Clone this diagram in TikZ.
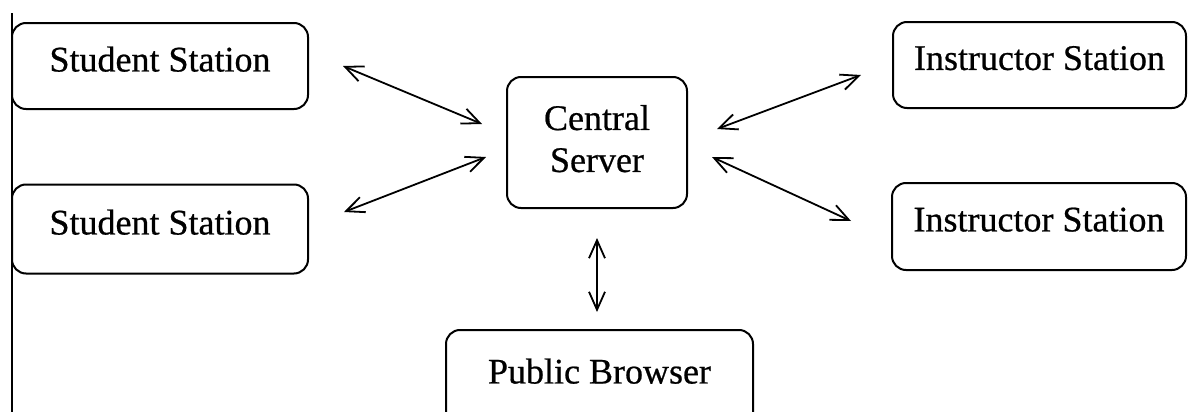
\documentclass[tikz,border=0pt]{standalone}
\usepackage{fontspec}
\setmainfont{Liberation Serif}
\newfontfamily\stationfont{Liberation Serif}[FakeBold=0.6]
\usetikzlibrary{arrows.meta}
\tikzset{
  station/.style = {shape=rectangle, rounded corners=7pt,
                    draw, line width=1pt, align=center,
                    font=\stationfont\fontsize{18}{21}\selectfont,
                    minimum width=148pt, minimum height=43pt,
                    text depth=7pt},
  server/.style  = {station, minimum width=90pt, minimum height=65.5pt,
                    text depth=4pt},
  link/.style    = {line width=0.9pt,
                    {Straight Barb[length=9pt,width=8pt]}-{Straight Barb[length=9pt,width=8pt]}}
}

\begin{document}
\begin{tikzpicture}[x=0.5pt, y=-0.5pt]
  \useasboundingbox (0,0) rectangle (1190,412);

  % left margin rule
  \draw[line width=1pt] (12,13) -- (12,412);

  % stations
  \node [station] (s1) at (160,66)     {Student Station};
  \node [station, minimum height=44.5pt] (s2) at (160,229) {Student Station};
  \node [server]  (cs) at (597,142.5)  {Central\\Server};
  \node [station, minimum width=146.5pt] (i1) at (1039.5,65)   {Instructor Station};
  \node [station, minimum width=147pt, minimum height=43.5pt] (i2) at (1039,226.5) {Instructor Station};
  \node [station, minimum width=153.5pt, minimum height=48pt] (pb) at (599.5,378) {Public Browser};

  % free ends of the links
  \coordinate (s1out) at ([shift={(34,0)}]s1.east);
  \coordinate (cs1)   at ([shift={(-24,-18.5)}]cs.west);
  \coordinate (s2out) at ([shift={(35,-17)}]s2.east);
  \coordinate (cs2)   at ([shift={(-20,14.5)}]cs.west);
  \coordinate (i1out) at ([shift={(-31,10)}]i1.west);
  \coordinate (cs3)   at ([shift={(29,-13.5)}]cs.east);
  \coordinate (i2out) at ([shift={(-40,-5.5)}]i2.west);
  \coordinate (cs4)   at ([shift={(24,14.5)}]cs.east);
  \coordinate (cs5)   at ([shift={(0,29)}]cs.south);
  \coordinate (pbtop) at ([shift={(0,-17)}]pb.north);
  \coordinate (pbout) at (cs.south |- pbtop);

  % links
  \draw [link] (s1out) -- (cs1);
  \draw [link] (s2out) -- (cs2);
  \draw [link] (cs3) -- (i1out);
  \draw [link] (cs4) -- (i2out);
  \draw [link] (cs5) -- (pbout);
\end{tikzpicture}
\end{document}
